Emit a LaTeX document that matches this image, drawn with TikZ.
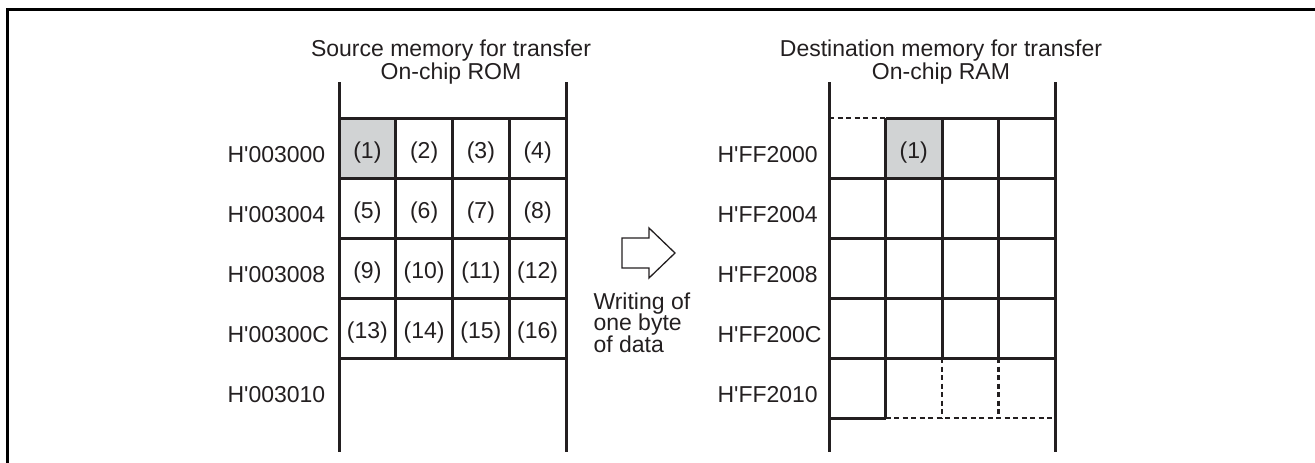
\documentclass[tikz,border=0pt]{standalone}
\usepackage{fontspec}
\setmainfont{Liberation Sans}
\definecolor{cellgray}{RGB}{209,211,212}
\definecolor{ink}{RGB}{35,31,32}
\newcommand\haddr[1]{H\textquotesingle#1}

\begin{document}
\begin{tikzpicture}[x=1pt,y=-1pt,line width=3pt,draw=ink,
  txt/.style={font=\fontsize{23}{21.5}\selectfont,text=ink,inner sep=0pt},
  addr/.style={txt,anchor=base west},
  gapline/.style={line width=2.3pt,dash pattern=on 5pt off 3.5pt}]
  \useasboundingbox (0,0) rectangle (1315,463);
  % frame
  \draw[black] (7,463) -- (7,9) -- (1315,9);

  % titles
  \node[txt,anchor=base] (srcttl) at (451,56) {Source memory for transfer};
  \node[txt,anchor=base] (srcmem) at (451,79) {On-chip ROM};
  \node[txt,anchor=base] (dstttl) at (941,56) {Destination memory for transfer};
  \node[txt,anchor=base] (dstmem) at (941,79) {On-chip RAM};

  % source memory
  \fill[cellgray] (339,118) rectangle (395.75,178);
  \foreach \y in {118,178,...,358} \draw (339,\y) -- (566,\y);
  \foreach \x in {395.75,452.5,509.25} \draw (\x,118) -- (\x,358);
  \draw (339,82) -- (339,452) (566,82) -- (566,452);
  \foreach \r in {0,...,3}
  \foreach \c in {1,...,4}
  {
    \pgfmathtruncatemacro\n{4*\r+\c}
    \node[txt,anchor=base] (src\n) at ({339+56.75*(\c-.5)},{158+60*\r}) {(\n)};
  }
  \foreach \a [count=\i from 0] in {000,004,008,00C,010}
    \node[addr] (srcadr\i) at (226,{162+60*\i}) {\haddr{003\a}};

  % block arrow
  \draw[line width=1.3pt,line join=miter] (622,238) -- (649,238) -- (649,228)
    -- (675,253) -- (649,278) -- (649,268) -- (622,268) -- cycle;
  \node[txt,align=left,anchor=north west] (wrt) at (592,291) {Writing of\\one byte\\of data};

  % destination memory
  \fill[cellgray] (885.5,118) rectangle (942,178);
  \draw[gapline] (829,118) -- (885.5,118);
  \draw (885.5,118) -- (1055,118);
  \foreach \y in {178,238,...,358} \draw (829,\y) -- (1055,\y);
  \draw (829,418) -- (885.5,418);
  \draw[gapline] (885.5,418) -- (1055,418);
  \draw (885.5,118) -- (885.5,418);
  \foreach \x in {942,998.5}
  {
    \draw (\x,118) -- (\x,358);
    \draw[gapline] (\x,358) -- (\x,418);
  }
  \draw (829,82) -- (829,452) (1055,82) -- (1055,452);
  \node[txt,anchor=base] (dst1) at (913.75,158) {(1)};
  \foreach \a [count=\i from 0] in {000,004,008,00C,010}
    \node[addr] (dstadr\i) at (716,{162+60*\i}) {\haddr{FF2\a}};
\end{tikzpicture}
\end{document}
